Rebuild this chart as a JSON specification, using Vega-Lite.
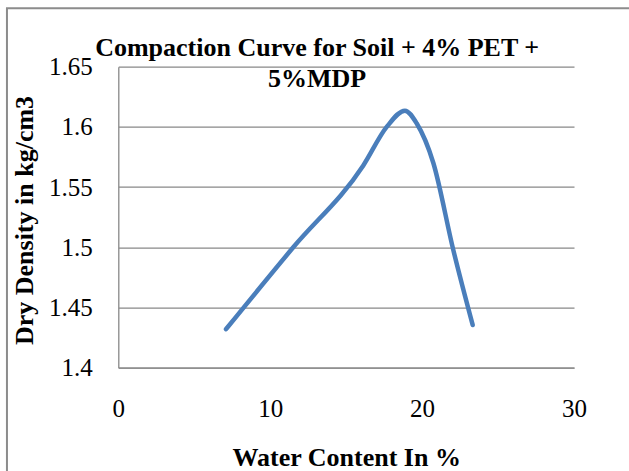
{
  "$schema": "https://vega.github.io/schema/vega-lite/v6.json",
  "autosize": "none",
  "padding": {"left": 118.3, "top": 66.7, "right": 55, "bottom": 103.3},
  "width": 455.7,
  "height": 301,
  "background": "white",
  "title": {
    "text": ["Compaction Curve for Soil + 4% PET +", "5%MDP"],
    "font": "Liberation Serif",
    "fontSize": 26,
    "fontWeight": "bold",
    "color": "black",
    "anchor": "middle",
    "frame": "group",
    "baseline": "alphabetic",
    "offset": 0,
    "dx": -29,
    "dy": 106,
    "lineHeight": 31
  },
  "config": {
    "view": {"stroke": null},
    "axis": {
      "ticks": false,
      "labelFlush": false,
      "domainColor": "#888888",
      "domainWidth": 1.3,
      "gridColor": "#888888",
      "gridWidth": 1.3,
      "labelFont": "Liberation Serif",
      "labelFontSize": 25,
      "labelColor": "black",
      "titleFont": "Liberation Serif",
      "titleFontSize": 26,
      "titleFontWeight": "bold",
      "titleColor": "black"
    }
  },
  "datasets": {
    "curve": [
      {"water": 7.09, "density": 1.432},
      {"water": 11.52, "density": 1.5},
      {"water": 16.13, "density": 1.568},
      {"water": 17.67, "density": 1.6},
      {"water": 18.87, "density": 1.6135},
      {"water": 19.64, "density": 1.603},
      {"water": 20.74, "density": 1.57},
      {"water": 22.05, "density": 1.498},
      {"water": 23.33, "density": 1.4355}
    ],
    "frame": [
      {"left": -7.33, "right": 35, "top": 1.6985, "bottom": 1.3}
    ]
  },
  "layer": [
    {
      "data": {"name": "frame"},
      "mark": {"type": "rect", "fill": "transparent", "stroke": "#8c8c8c", "strokeWidth": 2, "clip": false},
      "encoding": {
        "x": {"field": "left", "type": "quantitative"},
        "x2": {"field": "right"},
        "y": {"field": "top", "type": "quantitative"},
        "y2": {"field": "bottom"}
      }
    },
    {
      "data": {"name": "curve"},
      "mark": {"type": "line", "interpolate": "monotone", "color": "#4a7ebb", "strokeWidth": 4.5, "strokeCap": "round"},
      "encoding": {
        "x": {
          "field": "water",
          "type": "quantitative",
          "title": "Water Content In %",
          "scale": {"domain": [0, 30], "nice": false, "zero": false},
          "axis": {"grid": false, "values": [0, 10, 20, 30], "format": "d", "labelPadding": 29, "titlePadding": 23}
        },
        "y": {
          "field": "density",
          "type": "quantitative",
          "title": "Dry Density in kg/cm3",
          "scale": {"domain": [1.4, 1.65], "nice": false, "zero": false},
          "axis": {"grid": true, "values": [1.4, 1.45, 1.5, 1.55, 1.6, 1.65], "format": "~g", "labelPadding": 26, "titlePadding": 11, "titleY": 153.3}
        }
      }
    }
  ]
}
